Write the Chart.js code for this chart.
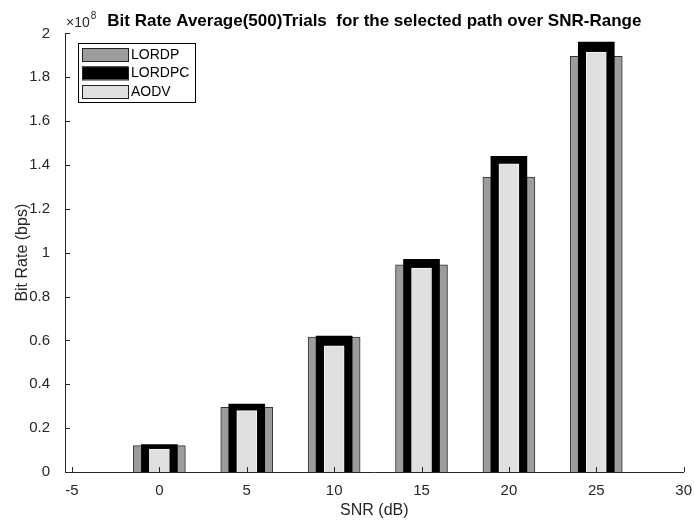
<!DOCTYPE html>
<html>
<head>
<meta charset="utf-8">
<script src="https://cdn.jsdelivr.net/npm/chart.js@4.4.1/dist/chart.umd.min.js"></script>
<style>
  html, body { margin: 0; padding: 0; background: #fff; }
  #wrap { width: 694px; height: 520px; }
</style>
</head>
<body>
<div id="wrap"><canvas id="c"></canvas></div>
<script>
// SNR values (dB) and average bit rate (bps) per protocol
const snr = [0, 5, 10, 15, 20, 25];
const lordp = [1.20e7, 2.95e7, 6.15e7, 9.45e7, 1.345e8, 1.895e8];
const lordpc = [1.25e7, 3.10e7, 6.20e7, 9.70e7, 1.44e8, 1.96e8];
const aodv = [1.05e7, 2.80e7, 5.75e7, 9.30e7, 1.405e8, 1.915e8];
const xTicks = [-5, 0, 5, 10, 15, 20, 25, 30];
const yTicks = [0, 0.2e8, 0.4e8, 0.6e8, 0.8e8, 1.0e8, 1.2e8, 1.4e8, 1.6e8, 1.8e8, 2.0e8];

const txt = "#262626";
const font = "Arial, 'Liberation Sans', sans-serif";

function pts(vals) {
  return vals.map((v, i) => ({ x: snr[i], y: v }));
}

// matlab style ticks pointing inside + exponent label + legend box
const matlabBits = {
  id: "matlabBits",
  afterDraw(chart) {
    const ctx = chart.ctx;
    const a = chart.chartArea;
    const xs = chart.scales.x, ys = chart.scales.y;
    ctx.save();
    ctx.strokeStyle = txt;
    ctx.lineWidth = 1;
    ctx.beginPath();
    yTicks.forEach(v => {
      const y = Math.round(ys.getPixelForValue(v)) + 0.5;
      ctx.moveTo(a.left, y);
      ctx.lineTo(a.left + 5, y);
    });
    xTicks.forEach(v => {
      const x = Math.round(xs.getPixelForValue(v)) + 0.5;
      ctx.moveTo(x, a.bottom);
      ctx.lineTo(x, a.bottom - 5);
    });
    ctx.stroke();

    // x10^8
    ctx.fillStyle = txt;
    ctx.textBaseline = "alphabetic";
    ctx.textAlign = "left";
    ctx.font = "14px " + font;
    ctx.fillText("\u00d710", a.left + 1, a.top - 6);
    const w = ctx.measureText("\u00d710").width;
    ctx.font = "10px " + font;
    ctx.fillText("8", a.left + 2 + w, a.top - 14);

    // legend
    const lx = 78, ly = 43, lw = 117, lh = 59;
    ctx.fillStyle = "#fff";
    ctx.fillRect(lx, ly, lw, lh);
    ctx.strokeStyle = "#000";
    ctx.strokeRect(lx + 0.5, ly + 0.5, lw, lh);
    chart.data.datasets.forEach((ds, i) => {
      const sy = ly + 5 + i * 18.5;
      ctx.fillStyle = ds.backgroundColor;
      ctx.fillRect(4 + lx, sy, 46, 13);
      ctx.strokeStyle = "#222";
      ctx.strokeRect(4 + lx + 0.5, sy + 0.5, 46, 13);
      ctx.fillStyle = "#000";
      ctx.font = "14px " + font;
      ctx.textBaseline = "middle";
      ctx.fillText(ds.label, lx + 53, sy + 7);
    });
    ctx.restore();
  }
};

new Chart(document.getElementById("c"), {
  type: "bar",
  data: {
    datasets: [
      { label: "LORDP", data: pts(lordp), backgroundColor: "#9c9c9c", borderColor: "#333333",
        borderWidth: 1, barThickness: 52, grouped: false, order: 3 },
      { label: "LORDPC", data: pts(lordpc), backgroundColor: "#000000", borderColor: "#000000",
        borderWidth: 0, barThickness: 36, grouped: false, order: 2 },
      { label: "AODV", data: pts(aodv), backgroundColor: "#e0e0e0", borderColor: "#f4f4f4",
        borderWidth: 1, barThickness: 20, grouped: false, order: 1 }
    ]
  },
  options: {
    responsive: true,
    maintainAspectRatio: false,
    animation: false,
    layout: { padding: { left: 0, right: 0, top: 0, bottom: 0 } },
    scales: {
      x: {
        type: "linear",
        offset: false,
        min: -5.4,
        max: 30.0,
        afterBuildTicks: s => { s.ticks = xTicks.map(v => ({ value: v })); },
        afterFit: s => { s.height = 48; },
        grid: { display: false, offset: false },
        border: { display: true, color: txt, width: 1 },
        ticks: { color: txt, font: { family: font, size: 15 }, padding: 2, maxRotation: 0 },
        title: { display: true, text: "SNR (dB)", color: txt, font: { family: font, size: 16 }, padding: { top: 0, bottom: 0 } }
      },
      y: {
        min: 0,
        max: 2e8,
        afterBuildTicks: s => { s.ticks = yTicks.map(v => ({ value: v })); },
        afterFit: s => { s.width = 65; },
        grid: { display: false },
        border: { display: true, color: txt, width: 1 },
        ticks: {
          color: txt, font: { family: font, size: 15 }, padding: 7,
          callback: v => String(Math.round(v / 1e7) / 10)
        },
        title: { display: true, text: "Bit Rate (bps)", color: txt, font: { family: font, size: 16 }, padding: { top: 13, bottom: 0 } }
      }
    },
    plugins: {
      legend: { display: false },
      tooltip: { enabled: false },
      title: {
        display: true,
        fullSize: false,
        text: "Bit Rate Average(500)Trials  for the selected path over SNR-Range",
        color: "#000",
        font: { family: font, size: 17, weight: "bold" },
        padding: { top: 11, bottom: 2 }
      }
    }
  },
  plugins: [matlabBits]
});
</script>
</body>
</html>
